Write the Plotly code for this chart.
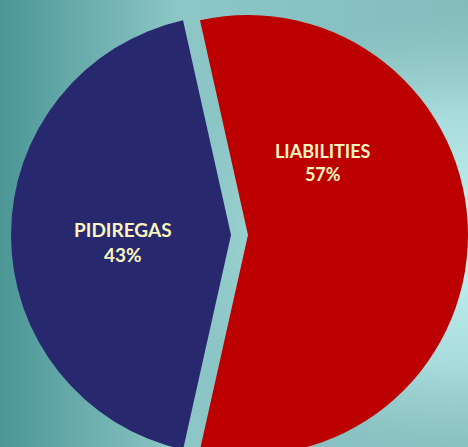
import base64
import plotly.graph_objects as go

# Data
labels = ["LIABILITIES", "PIDIREGAS"]
values = [57, 43]
slice_colors = ["#BC0000", "#28286E"]
pulls = [0.0386, 0.0386]

W, H = 468, 464

bg_svg = """<svg xmlns='http://www.w3.org/2000/svg' width='468' height='447' viewBox='0 0 468 447' preserveAspectRatio='none'>
<defs>
<linearGradient id='h' x1='0' y1='0' x2='1' y2='0'>
<stop offset='0' stop-color='#4C9696'/>
<stop offset='0.38' stop-color='#8CC6C6'/>
<stop offset='1' stop-color='#84BCBC'/>
</linearGradient>
<radialGradient id='r' gradientUnits='userSpaceOnUse' cx='468' cy='240' r='230' gradientTransform='translate(468 240) scale(1.3 1) translate(-468 -240)'>
<stop offset='0' stop-color='#C6F4F4' stop-opacity='1'/>
<stop offset='0.55' stop-color='#B4E6E6' stop-opacity='0.75'/>
<stop offset='1' stop-color='#9CD2D2' stop-opacity='0'/>
</radialGradient>
</defs>
<rect width='468' height='447' fill='url(#h)'/>
<rect width='468' height='447' fill='url(#r)'/>
</svg>"""
bg_uri = "data:image/svg+xml;base64," + base64.b64encode(bg_svg.encode()).decode()

# Pie geometry (pixels within figure)
cx, cy, half = 239.5, 235.0, 228.5
dom_x = [(cx - half) / W, min(1.0, (cx + half) / W)]
dom_y = [(H - (cy + half)) / H, (H - (cy - half)) / H]

fig = go.Figure()
fig.add_trace(go.Pie(
    labels=labels,
    values=values,
    sort=False,
    direction="clockwise",
    rotation=-(values[0] / sum(values) * 360 / 2 - 90),
    pull=pulls,
    marker=dict(colors=slice_colors, line=dict(width=0)),
    textinfo="none",
    hoverinfo="label+percent",
    showlegend=False,
    domain=dict(x=dom_x, y=dom_y),
))

label_pos = [(323, 163), (123, 242)]
label_sizes = [18, 19]
for lab, val, (px, py), fs in zip(labels, values, label_pos, label_sizes):
    pct = round(100 * val / sum(values))
    fig.add_annotation(
        x=px / W, y=1 - py / H, xref="paper", yref="paper",
        xanchor="center", yanchor="middle", showarrow=False,
        text=f"<b>{lab}<br>{pct}%</b>",
        font=dict(family="Lato", size=fs, color="#FAF5BE"),
    )

fig.update_layout(
    width=W, height=H,
    margin=dict(l=0, r=0, t=0, b=0),
    paper_bgcolor="#4C9696",
    images=[dict(source=bg_uri, xref="paper", yref="paper", x=0, y=1,
                 sizex=1, sizey=447 / H, sizing="stretch", layer="below",
                 xanchor="left", yanchor="top")],
)

fig.write_html(
    "out.html",
    config={"displayModeBar": False},
    post_script="document.body.style.margin='0';document.body.style.overflow='hidden';"
                "document.documentElement.style.overflow='hidden';",
)
